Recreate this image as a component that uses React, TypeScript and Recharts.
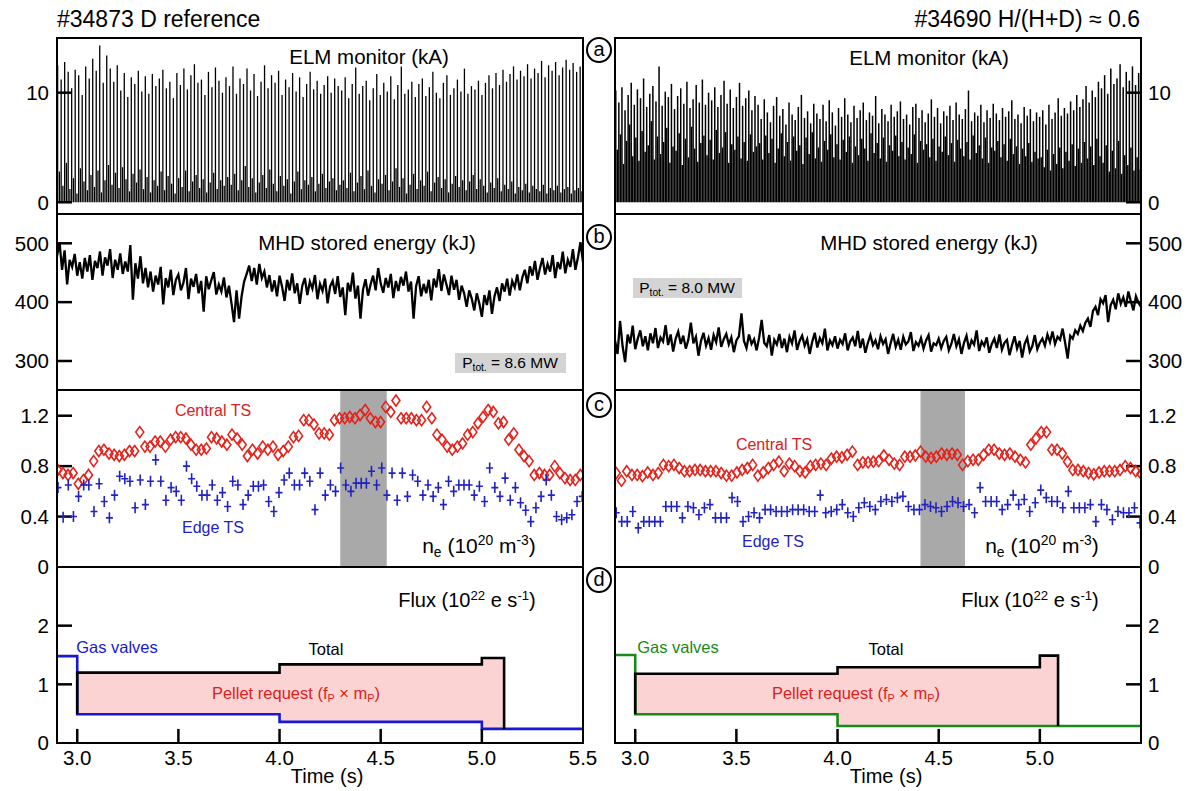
import React from 'react';
import { ComposedChart, Bar, Line, Area, Scatter, XAxis, YAxis, ReferenceLine, ReferenceArea } from 'recharts';

const FONT = '"Liberation Sans", Arial, Helvetica, sans-serif';
const T0 = 2.9;
const T1 = 5.5;

// ELM monitor (kA): spike heights and the low signal between spikes
const elmPeaksD = [
  12.5, 11.2, 12.8, 11.9, 10.4, 12.1, 11.6, 9.8, 12.4, 11.3, 13.1, 12.0, 14.3, 10.9, 13.4, 12.2,
  11.0, 12.5, 10.2, 11.8, 9.6, 11.4, 10.8, 12.0, 10.1, 11.5, 9.9, 11.7, 10.6, 11.3, 12.1, 10.4, 11.0,
  9.5, 11.8, 10.7, 12.2, 10.3, 11.6, 12.6, 10.9, 11.2, 9.8, 11.9, 10.5, 12.3, 11.1, 10.0, 11.4,
  10.6, 12.4, 9.9, 11.3, 10.8, 12.2, 10.2, 11.7, 9.7, 11.0, 12.5, 10.4, 11.6, 10.9, 12.0, 9.8,
  11.2, 10.5, 11.8, 10.1, 11.4, 9.6, 10.8, 11.9, 10.3, 11.1, 9.9, 10.7, 11.5, 10.0, 11.3, 10.6,
  10.2, 11.4, 9.5, 10.8, 12.3, 9.9, 10.6, 11.1, 9.3, 10.4, 11.7, 9.8, 10.9, 10.1, 11.5, 9.4, 10.7,
  12.4, 9.9, 10.3, 11.0, 9.6, 10.8, 11.3, 9.7, 10.5, 11.9, 10.0, 9.5, 10.9, 11.6, 9.8, 10.4, 11.2,
  10.1, 12.2, 9.9, 10.6,
  10.3, 11.1, 9.8, 10.9, 11.6, 10.4, 11.8, 10.7, 12.1, 11.0, 11.7, 12.4, 11.2, 12.0, 11.5, 12.6,
  11.3, 12.2, 11.8, 12.9, 11.4, 12.5, 12.0, 12.8, 11.6, 12.3, 13.0, 12.1, 12.7, 11.9, 12.4,
];
const elmFloorD = [
  2.8, 1.5, 3.6, 1.2, 2.2, 0.8, 3.1, 1.9, 1.1, 2.5, 1.4, 2.9, 0.9, 2.0, 3.4, 1.6,
  2.7, 1.3, 3.2, 2.1, 1.0, 2.6, 1.8, 3.0, 1.2, 2.3, 0.9, 2.0, 1.5, 2.8, 1.1, 2.4, 1.7, 0.8, 2.2,
  1.4, 2.9, 1.0, 1.9, 2.5, 1.3, 2.1, 0.9, 1.8, 2.7, 1.2, 2.0, 1.5, 2.3,
  1.6, 2.6, 1.1, 2.0, 3.3, 1.4, 2.2, 0.9, 1.8, 2.5, 1.3, 3.0, 1.7, 1.0, 2.4, 1.5, 2.1, 0.8, 1.9,
  2.8, 1.2, 2.0, 1.6, 2.3, 1.0, 1.7, 2.6, 1.3, 1.9, 2.2, 1.1, 1.6,
  2.0, 1.3, 2.7, 1.0, 1.8, 2.4, 1.2, 2.9, 1.5, 0.9, 2.1, 1.7, 2.5, 1.1, 1.9, 3.1, 1.4, 2.2, 0.8,
  1.6, 2.6, 1.2, 2.0, 1.5, 2.8, 1.0, 1.8, 2.3, 1.3, 2.1, 0.9, 1.7, 2.4, 1.4, 2.0, 1.1, 1.9, 2.5,
  1.2, 2.1, 1.5, 0.9, 1.8, 1.3, 2.2, 1.0, 1.6, 1.2, 1.9, 0.8, 1.4, 1.1, 1.7, 0.9, 1.5, 1.2, 1.0,
  1.6, 0.8, 1.3, 1.1, 1.5, 0.9, 1.2, 1.4, 0.8, 1.1, 1.3, 1.0,
];
const elmPeaksH = [
  10.2, 9.1, 10.5, 8.4, 9.8, 10.9, 8.9, 10.3, 9.5, 11.3, 8.7, 9.9, 10.6, 9.2, 12.4, 8.8, 10.1, 9.6,
  10.8, 8.5, 9.7, 10.4, 9.0, 11.0, 8.6, 9.4, 10.7, 9.1, 11.2, 8.9, 10.0, 9.3, 10.5, 8.7, 9.8, 11.1,
  9.0, 10.3, 8.6, 9.6, 10.9, 8.8, 9.5, 10.2, 8.4, 9.7,
  8.9, 7.6, 9.4, 8.2, 7.3, 8.8, 9.6, 7.9, 8.5, 7.1, 9.1, 8.0, 7.5, 8.7, 9.8, 7.7, 8.3, 7.2, 9.0, 8.1,
  7.6, 8.9, 7.4, 9.3, 8.2, 7.0, 8.6, 7.8, 9.5, 8.0, 7.3, 8.8, 7.7, 8.4, 9.1, 7.5, 8.2, 7.9, 9.7, 7.2,
  8.5, 8.0, 7.4, 8.9, 7.8, 8.3, 9.2, 7.6, 8.0, 7.1, 8.7, 9.0, 7.7, 8.4, 7.3, 8.1, 9.4, 7.8, 8.6, 7.2,
  8.3, 7.9, 8.8, 7.5, 9.1, 8.0, 7.6, 8.5, 10.2, 7.4, 8.2, 7.9, 8.9, 7.3, 8.4, 7.7, 9.0, 8.1, 7.5, 8.6,
  7.8, 8.3, 9.3, 7.6, 8.0, 7.2, 8.7, 7.9, 8.5, 7.4, 8.2,
  7.8, 8.4, 7.1, 8.9, 7.6, 8.2, 9.5, 7.9, 8.6, 8.1, 9.2, 8.4, 9.8, 8.7, 9.4, 10.6, 9.1, 10.2, 9.6, 11.0,
  10.4, 11.6, 9.9, 12.2, 10.8, 11.3, 12.6, 10.5, 11.9, 11.1, 12.4, 10.7, 11.8,
];
const elmFloorH = [
  4.8, 6.2, 3.5, 5.6, 7.1, 4.2, 5.9, 3.8, 6.5, 4.6, 5.2, 7.4, 3.9, 6.0, 4.4, 5.5, 6.8, 3.6, 5.1, 4.7,
  6.3, 3.4, 5.8, 4.1, 6.9, 4.9, 3.7, 5.4, 6.1, 4.3, 5.7, 3.9, 6.6, 4.5, 5.0, 6.4, 3.6, 5.3, 4.8, 6.0,
  4.0, 5.5, 3.8, 6.2, 4.6, 5.1,
  5.4, 3.9, 6.1, 4.5, 5.8, 3.6, 4.9, 6.3, 4.2, 5.5, 3.8, 6.0, 4.7, 5.2, 3.5, 5.9, 4.4, 6.4, 4.0, 5.0,
  3.7, 5.6, 4.8, 6.2, 4.1, 5.3, 3.9, 5.7, 4.6, 6.0, 3.6, 5.1, 4.3, 5.8, 4.9, 3.8, 6.3, 4.5, 5.4, 4.0,
  5.9, 3.7, 5.2, 4.7, 6.1, 4.2, 5.5, 3.9, 5.0, 4.4, 6.2, 3.6, 5.6, 4.8, 5.3, 4.1, 5.8, 3.8, 5.1, 4.6,
  6.0, 4.3, 5.4, 3.7, 5.7, 4.9, 4.2, 5.5, 3.9, 6.1, 4.5, 5.2, 4.0, 5.9, 3.6, 5.0, 4.7, 5.6, 4.1, 5.3,
  3.8, 5.8, 4.4, 5.1, 3.5, 4.9, 4.2, 5.4, 3.7, 4.6, 4.0,
  4.1, 3.2, 4.8, 2.9, 4.4, 3.5, 5.0, 3.1, 4.6, 3.8, 5.3, 3.3, 4.9, 3.6, 5.5, 4.0, 5.1, 3.4, 5.8, 4.2,
  3.6, 5.2, 2.8, 4.7, 3.1, 5.6, 2.6, 4.3, 3.4, 5.0, 2.9, 4.1, 3.0,
];

// MHD stored energy (kJ), one value every 12.5 ms from 2.9 s to 5.5 s
const wmhdD = [
  478, 502, 455, 488, 430, 472, 460, 482, 445,
  468, 440, 475, 452, 480, 438, 470, 458, 486, 445, 476, 462, 490, 441, 472, 455, 483, 448, 469, 452,
  497, 404, 466, 440, 478, 432, 458, 425,
  452, 418, 445, 430, 460, 396, 441, 425, 455, 412, 438, 447, 420, 433, 458, 405, 440, 426, 448, 415,
  436, 384, 444, 422, 437, 451, 413, 430, 418, 442, 408, 428,
  398, 366, 420, 372, 410, 435,
  448, 462, 436, 458, 430, 465, 441, 452, 425, 446,
  418, 437, 410, 445, 426, 402, 438, 420, 449, 415, 432, 397, 428, 441, 412, 435, 423, 446, 405, 431,
  419, 440, 398, 427, 436, 414, 444, 409, 425, 378, 433, 418, 450, 406, 428, 372, 421, 439, 411, 430,
  445, 420, 458, 432, 416, 441, 425, 448, 407, 436, 419, 443, 428, 452,
  418, 435, 372, 427, 444, 410, 431, 415, 438, 403,
  440, 425, 456, 419, 447, 430, 412, 445, 421, 438, 404, 428, 415, 392, 420, 406, 386, 415, 398, 375,
  412, 395, 420, 380,
  410, 425, 402, 432, 418, 440, 411, 436, 425, 447, 420, 442,
  455, 432, 461, 445, 470, 438, 458, 475, 447, 465, 452, 480, 441, 468, 456, 486, 449, 472, 460, 490,
  455, 476, 502, 468,
];
const wmhdH = [
  335, 312, 368, 325, 298, 345, 330, 360, 320,
  338, 352, 325, 342, 318, 347, 330, 356, 322, 340, 333, 361, 327, 345, 316, 338, 350, 329, 343, 321,
  336, 365, 330, 341, 309, 334, 348, 326, 339, 319, 344, 332, 357, 324, 337, 346, 328, 340, 315, 335,
  342, 381, 334, 322, 345, 329, 337, 318,
  340, 370, 331, 325, 344, 309, 336, 328, 346, 322, 338, 315, 341, 330, 352, 319, 334, 343, 326, 337,
  312, 333, 348, 323, 339, 330, 355, 318, 335, 327, 342, 321,
  336, 329, 347, 318, 333, 340, 325, 351, 322, 338, 314, 331, 344, 327, 335, 320, 342, 329, 337, 312,
  330, 346, 324, 336, 319, 341, 328, 333, 349, 317, 332, 326, 339, 321, 335, 344, 316, 330, 327, 338,
  322, 334, 341, 318, 329, 346, 325, 337, 312, 331, 343, 320, 335, 328, 352, 317, 333, 326, 340, 314,
  329, 338, 322, 345, 319, 331, 336, 310, 327, 342, 321, 334, 306, 329, 339, 316, 325, 344, 320, 331,
  338, 326, 345, 332, 350, 329, 341, 336, 355, 331, 304, 343, 338, 352, 346, 360,
  351, 365, 372, 358, 385, 392, 378, 405,
  398, 412, 366, 395, 404, 388, 415, 397, 408, 392, 418, 401, 386, 410, 399, 392,
];

// Thomson scattering n_e (1e20 m^-3)
const neCoreD = [
  0.77, 0.745, 0.73, 0.745, 0.66, 0.69, 0.73, 0.84, 0.92, 0.93,
  0.9, 0.89, 0.88, 0.89, 0.92, 0.92, 1.07, 0.955, 0.955, 0.995,
  0.995, 0.955, 1.01, 1.03, 1.03, 1.02, 0.97, 0.93, 0.93, 0.94,
  1.03, 1.02, 0.995, 0.97, 1.05, 1.02, 0.97, 0.88, 0.93, 0.9,
  0.955, 0.93, 0.955, 0.89, 0.92, 0.955, 1.03, 1.04, 1.165, 1.165,
  1.13, 1.06, 1.06, 1.05, 1.165, 1.18, 1.18, 1.19, 1.18, 1.205,
  1.245, 1.18, 1.15, 1.15, 1.27, 1.23, 1.32, 1.18, 1.18, 1.18,
  1.165, 1.165, 1.27, 1.18, 1.05, 1.01, 0.955, 0.93, 0.955, 0.98,
  1.05, 1.07, 1.14, 1.19, 1.245, 1.23, 1.14, 1.15, 1.01, 1.06,
  0.93, 0.88, 0.84, 0.73, 0.745, 0.73, 0.73, 0.8, 0.745, 0.705,
  0.69, 0.69, 0.73,
];
const neEdgeD = [
  0.63, 0.395, 0.65, 0.4, 0.56, 0.65, 0.65, 0.44, 0.66, 0.52,
  0.39, 0.57, 0.72, 0.7, 0.68, 0.47, 0.69, 0.495, 0.68, 0.85,
  0.68, 0.53, 0.63, 0.6, 0.53, 0.8, 0.7, 0.64, 0.57, 0.57,
  0.65, 0.53, 0.59, 0.48, 0.68, 0.65, 0.495, 0.57, 0.64, 0.64,
  0.65, 0.52, 0.44, 0.59, 0.69, 0.745, 0.65, 0.65, 0.745, 0.68,
  0.455, 0.745, 0.57, 0.65, 0.6, 0.785, 0.65, 0.6, 0.665, 0.665,
  0.665, 0.76, 0.65, 0.785, 0.57, 0.745, 0.53, 0.745, 0.56, 0.73,
  0.68, 0.57, 0.65, 0.56, 0.63, 0.495, 0.68, 0.6, 0.65, 0.65,
  0.65, 0.57, 0.64, 0.52, 0.785, 0.63, 0.56, 0.705, 0.53, 0.63,
  0.51, 0.45, 0.36, 0.47, 0.56, 0.69, 0.57, 0.4, 0.375, 0.39,
  0.415, 0.52, 0.56,
];
const neCoreH = [
  0.745, 0.685, 0.76, 0.73, 0.73, 0.72, 0.75, 0.73, 0.745, 0.81,
  0.8, 0.81, 0.785, 0.76, 0.76, 0.77, 0.77, 0.76, 0.76, 0.76,
  0.745, 0.725, 0.725, 0.75, 0.77, 0.785, 0.81, 0.725, 0.75, 0.785,
  0.81, 0.835, 0.76, 0.82, 0.8, 0.76, 0.75, 0.8, 0.81, 0.82,
  0.81, 0.86, 0.875, 0.87, 0.89, 0.915, 0.81, 0.83, 0.83, 0.835,
  0.84, 0.885, 0.85, 0.82, 0.81, 0.875, 0.875, 0.885, 0.915, 0.875,
  0.865, 0.875, 0.9, 0.89, 0.9, 0.89, 0.81, 0.84, 0.85, 0.85,
  0.89, 0.93, 0.93, 0.9, 0.89, 0.9, 0.875, 0.85, 0.83, 0.97,
  1.02, 1.07, 1.07, 0.93, 0.93, 0.9, 0.835, 0.77, 0.77, 0.76,
  0.745, 0.735, 0.75, 0.76, 0.76, 0.76, 0.77, 0.8, 0.785, 0.76,
  0.74,
];
const neEdgeH = [
  0.43, 0.36, 0.36, 0.44, 0.31, 0.36, 0.36, 0.36, 0.36, 0.48,
  0.48, 0.48, 0.39, 0.48, 0.47, 0.415, 0.47, 0.495, 0.39, 0.39,
  0.39, 0.55, 0.52, 0.36, 0.4, 0.43, 0.39, 0.455, 0.455, 0.44,
  0.44, 0.44, 0.455, 0.455, 0.455, 0.44, 0.44, 0.57, 0.43, 0.44,
  0.455, 0.495, 0.43, 0.4, 0.47, 0.51, 0.48, 0.455, 0.52, 0.535,
  0.52, 0.55, 0.56, 0.48, 0.455, 0.455, 0.495, 0.48, 0.47, 0.44,
  0.48, 0.52, 0.51, 0.48, 0.495, 0.43, 0.63, 0.52, 0.52, 0.52,
  0.455, 0.495, 0.57, 0.495, 0.535, 0.44, 0.51, 0.61, 0.55, 0.52,
  0.52, 0.47, 0.6, 0.47, 0.47, 0.47, 0.495, 0.36, 0.495, 0.455,
  0.375, 0.44, 0.43, 0.43, 0.47, 0.35,
];
const tsWindowD = [4.3, 4.53];
const tsWindowH = [4.41, 4.63];

// fuelling flux (1e22 e/s): step times and levels
const gasTimesD = [2.9, 3.0, 4.0, 5.0, 5.5];
const gasLevelsD = [1.48, 0.49, 0.36, 0.24, 0.24];
const totalTimesD = [3.0, 3.0, 4.0, 5.0, 5.11];
const totalLevelsD = [0.49, 1.2, 1.34, 1.45, 0.24];
const pelletTimesD = [3.0, 4.0, 5.0, 5.11];
const pelletLowD = [0.49, 0.36, 0.24, 0.24];
const pelletHighD = [1.2, 1.34, 1.45, 0.24];

const gasTimesH = [2.9, 3.0, 4.0, 5.5];
const gasLevelsH = [1.5, 0.49, 0.29, 0.29];
const totalTimesH = [3.0, 3.0, 4.0, 5.0, 5.09];
const totalLevelsH = [0.49, 1.18, 1.29, 1.49, 0.29];
const pelletTimesH = [3.0, 4.0, 5.0, 5.09];
const pelletLowH = [0.49, 0.29, 0.29, 0.29];
const pelletHighH = [1.18, 1.29, 1.49, 0.29];

const xTicksD = [3.0, 3.5, 4.0, 4.5, 5.0, 5.5];
const xTicksH = [3.0, 3.5, 4.0, 4.5, 5.0];

// layout
const COL_X = [57, 615];
const PLOT_W = 526;
const ROW_TOP = [38, 214, 390, 567];
const ROW_H = [176, 176, 177, 176];
const PAD = 14;
const RIGHT_GAP = 24;
const TICK_T = 15 / (PLOT_W / (T1 - T0));

const series = (ts: number[], vs: number[]) => ts.map((t, i) => ({ t, v: vs[i] }));
const sampled = (vs: number[], start: number, end: number) =>
  vs.map((v, i) => ({ t: start + (i * (end - start)) / (vs.length - 1), v }));
const elmRows = (peaks: number[], floor: number[]) => {
  const step = (T1 - T0) / peaks.length;
  return peaks.flatMap((p, i) => [
    { t: T0 + (i + 0.25) * step, v: p },
    { t: T0 + (i + 0.75) * step, v: floor[i] },
  ]);
};
const rangeRows = (ts: number[], lo: number[], hi: number[]) => ts.map((t, i) => ({ t, range: [lo[i], hi[i]] }));

const tickStyle = { fontSize: 20.5, fill: '#000', fontFamily: FONT };

function Panel({ col, row, yDomain, yTicks, data, xTicks, children }: any) {
  const top = ROW_TOP[row];
  const h = ROW_H[row];
  const isLast = row === 3;
  const left = col === 0 ? 0 : COL_X[1] - 4;
  const width = col === 0 ? COL_X[0] + PLOT_W + RIGHT_GAP : 4 + PLOT_W + 54;
  const height = PAD + h + (isLast ? 46 : PAD);
  const edgeT = col === 0 ? T0 : T1;
  const dir = col === 0 ? 1 : -1;
  return (
    <div style={{ position: 'absolute', left, top: top - PAD }}>
      <ComposedChart
        width={width}
        height={height}
        data={data}
        margin={{ top: PAD, right: col === 0 ? RIGHT_GAP : 0, bottom: isLast ? 0 : PAD, left: col === 0 ? 0 : 4 }}
      >
        <XAxis
          type="number"
          dataKey="t"
          domain={[T0, T1]}
          allowDataOverflow
          hide={!isLast}
          ticks={xTicks}
          interval={0}
          height={46}
          tickLine={false}
          axisLine={false}
          tickSize={0}
          tickMargin={7}
          tick={tickStyle}
          tickFormatter={(v: number) => v.toFixed(1)}
        />
        <YAxis
          type="number"
          domain={yDomain}
          allowDataOverflow
          orientation={col === 0 ? 'left' : 'right'}
          width={col === 0 ? 57 : 54}
          ticks={yTicks}
          interval={0}
          tickLine={false}
          axisLine={false}
          tickSize={0}
          tickMargin={col === 0 ? 8 : 7}
          tick={tickStyle}
        />
        {children}
        {yTicks
          .filter((v: number) => v > yDomain[0] && v < yDomain[1])
          .map((v: number) => (
            <ReferenceLine
              key={'y' + v}
              segment={[{ x: edgeT, y: v }, { x: edgeT + dir * TICK_T, y: v }]}
              stroke="#000"
              strokeWidth={2.5}
            />
          ))}
        {isLast &&
          xTicks
            .filter((v: number) => v > T0 && v < T1)
            .map((v: number) => (
              <ReferenceLine key={'x' + v} segment={[{ x: v, y: 0 }, { x: v, y: 0.24 }]} stroke="#000" strokeWidth={2.5} />
            ))}
      </ComposedChart>
    </div>
  );
}

const Sup = ({ children }: any) => (
  <span style={{ fontSize: '0.66em', position: 'relative', top: '-0.55em' }}>{children}</span>
);
const Sub = ({ children }: any) => (
  <span style={{ fontSize: '0.66em', position: 'relative', top: '0.3em' }}>{children}</span>
);

function Txt({ x, y, size, color = '#000', anchor = 'middle', children }: any) {
  const tx = anchor === 'middle' ? '-50%' : anchor === 'end' ? '-100%' : '0';
  return (
    <div
      style={{
        position: 'absolute',
        left: x,
        top: y,
        transform: `translate(${tx}, -50%)`,
        fontSize: size,
        color,
        fontFamily: FONT,
        whiteSpace: 'nowrap',
        lineHeight: 1,
      }}
    >
      {children}
    </div>
  );
}

const Diamond = (p: any) => (
  <path
    d={`M${p.cx},${p.cy - 5.5}L${p.cx + 4},${p.cy}L${p.cx},${p.cy + 5.5}L${p.cx - 4},${p.cy}Z`}
    fill="none"
    stroke="#e4221b"
    strokeWidth={1.6}
  />
);
const Cross = (p: any) => (
  <path
    d={`M${p.cx},${p.cy - 5.5}V${p.cy + 5.5}M${p.cx - 3.5},${p.cy}H${p.cx + 3.5}`}
    fill="none"
    stroke="#2222c4"
    strokeWidth={1.6}
  />
);

function Column({ col }: { col: 0 | 1 }) {
  const d = col === 0;
  const gasColor = d ? '#1717d6' : '#178a17';
  const win = d ? tsWindowD : tsWindowH;
  return (
    <>
      <Panel col={col} row={0} yDomain={[-1.07, 14.99]} yTicks={[0, 10]} data={d ? elmRows(elmPeaksD, elmFloorD) : elmRows(elmPeaksH, elmFloorH)}>
        <Bar dataKey="v" fill="#000" barSize={d ? 1.3 : 1.5} isAnimationActive={false} />
      </Panel>
      <Panel col={col} row={1} yDomain={[250.7, 549.8]} yTicks={[300, 400, 500]} data={sampled(d ? wmhdD : wmhdH, T0, T1)}>
        <Line dataKey="v" type="linear" stroke="#000" strokeWidth={2.3} dot={false} isAnimationActive={false} />
      </Panel>
      <Panel col={col} row={2} yDomain={[0, 1.404]} yTicks={[0, 0.4, 0.8, 1.2]}>
        <ReferenceArea x1={win[0]} x2={win[1]} fill="#a9a9a9" fillOpacity={1} stroke="none" />
        <Scatter
          data={d ? sampled(neCoreD, 2.904, 5.487) : sampled(neCoreH, 2.906, 5.5)}
          dataKey="v"
          shape={(p: any) => <Diamond cx={p.cx} cy={p.cy} />}
          isAnimationActive={false}
        />
        <Scatter
          data={d ? sampled(neEdgeD, 2.905, 5.496) : sampled(neEdgeH, 2.906, 5.495)}
          dataKey="v"
          shape={(p: any) => <Cross cx={p.cx} cy={p.cy} />}
          isAnimationActive={false}
        />
      </Panel>
      <Panel col={col} row={3} yDomain={[0, 3]} yTicks={[0, 1, 2]} xTicks={d ? xTicksD : xTicksH}>
        <Area
          data={d ? rangeRows(pelletTimesD, pelletLowD, pelletHighD) : rangeRows(pelletTimesH, pelletLowH, pelletHighH)}
          dataKey="range"
          type="stepAfter"
          fill="#fcd3d3"
          fillOpacity={1}
          stroke="none"
          isAnimationActive={false}
        />
        <Line
          data={d ? series(gasTimesD, gasLevelsD) : series(gasTimesH, gasLevelsH)}
          dataKey="v"
          type="stepAfter"
          stroke={gasColor}
          strokeWidth={2.6}
          dot={false}
          isAnimationActive={false}
        />
        <Line
          data={d ? series(totalTimesD, totalLevelsD) : series(totalTimesH, totalLevelsH)}
          dataKey="v"
          type="stepAfter"
          stroke="#000"
          strokeWidth={2.6}
          dot={false}
          isAnimationActive={false}
        />
      </Panel>
    </>
  );
}

const circles = [
  { l: 'a', y: 50 },
  { l: 'b', y: 237 },
  { l: 'c', y: 405 },
  { l: 'd', y: 580 },
];

export default function App() {
  return (
    <div style={{ position: 'absolute', left: 0, top: 0, width: 1195, height: 791, background: '#fff', overflow: 'hidden' }}>
      <Column col={0} />
      <Column col={1} />

      {COL_X.map((x) =>
        ROW_TOP.map((y, r) => (
          <div
            key={x + '-' + y}
            style={{
              position: 'absolute',
              left: x - 1.25,
              top: y - 1.25,
              width: PLOT_W + 2.5,
              height: ROW_H[r] + 2.5,
              border: '2.5px solid #000',
              boxSizing: 'border-box',
              pointerEvents: 'none',
            }}
          />
        ))
      )}

      {circles.map((c) => (
        <div
          key={c.l}
          style={{
            position: 'absolute',
            left: 599 - 13,
            top: c.y - 13,
            width: 26,
            height: 26,
            border: '2.5px solid #000',
            borderRadius: '50%',
            boxSizing: 'border-box',
            display: 'flex',
            alignItems: 'center',
            justifyContent: 'center',
            fontFamily: FONT,
            fontSize: 20,
            lineHeight: 1,
            paddingBottom: 3,
            background: '#fff',
          }}
        >
          {c.l}
        </div>
      ))}

      <Txt x={57} y={19} size={23} anchor="start">#34873 D reference</Txt>
      <Txt x={1140} y={19} size={23} anchor="end">#34690 H/(H+D) ≈ 0.6</Txt>

      <Txt x={369} y={57} size={20.5}>ELM monitor (kA)</Txt>
      <Txt x={929} y={58} size={20.5}>ELM monitor (kA)</Txt>
      <Txt x={367} y={243} size={20.5}>MHD stored energy (kJ)</Txt>
      <Txt x={929} y={243} size={20.5}>MHD stored energy (kJ)</Txt>

      <div style={{ position: 'absolute', left: 455, top: 353, width: 111, height: 20, background: '#d4d4d4' }} />
      <Txt x={510} y={363} size={15.5}>
        P<Sub>tot.</Sub> = 8.6 MW
      </Txt>
      <div style={{ position: 'absolute', left: 633, top: 278, width: 109, height: 20, background: '#d4d4d4' }} />
      <Txt x={687} y={288} size={15.5}>
        P<Sub>tot.</Sub> = 8.0 MW
      </Txt>

      <Txt x={213} y={411} size={16} color="#dd2020">Central TS</Txt>
      <Txt x={213} y={528} size={16} color="#2222c4">Edge TS</Txt>
      <Txt x={479} y={545} size={21}>
        n<Sub>e</Sub> (10<Sup>20</Sup> m<Sup>-3</Sup>)
      </Txt>
      <Txt x={774} y={445} size={16} color="#dd2020">Central TS</Txt>
      <Txt x={773} y={542} size={16} color="#2222c4">Edge TS</Txt>
      <Txt x={1042} y={545} size={21}>
        n<Sub>e</Sub> (10<Sup>20</Sup> m<Sup>-3</Sup>)
      </Txt>

      <Txt x={467} y={600} size={20}>
        Flux (10<Sup>22</Sup> e s<Sup>-1</Sup>)
      </Txt>
      <Txt x={1030} y={600} size={20}>
        Flux (10<Sup>22</Sup> e s<Sup>-1</Sup>)
      </Txt>
      <Txt x={117} y={647} size={16.5} color="#1717d6">Gas valves</Txt>
      <Txt x={678} y={647} size={16.5} color="#178a17">Gas valves</Txt>
      <Txt x={326} y={649} size={16.5}>Total</Txt>
      <Txt x={886} y={649} size={16.5}>Total</Txt>
      <Txt x={296} y={693} size={16.5} color="#dd2020">
        Pellet request (f<Sub>P</Sub> × m<Sub>P</Sub>)
      </Txt>
      <Txt x={856} y={693} size={16.5} color="#dd2020">
        Pellet request (f<Sub>P</Sub> × m<Sub>P</Sub>)
      </Txt>

      <Txt x={327} y={776} size={20}>Time (s)</Txt>
      <Txt x={886} y={776} size={20}>Time (s)</Txt>
    </div>
  );
}
